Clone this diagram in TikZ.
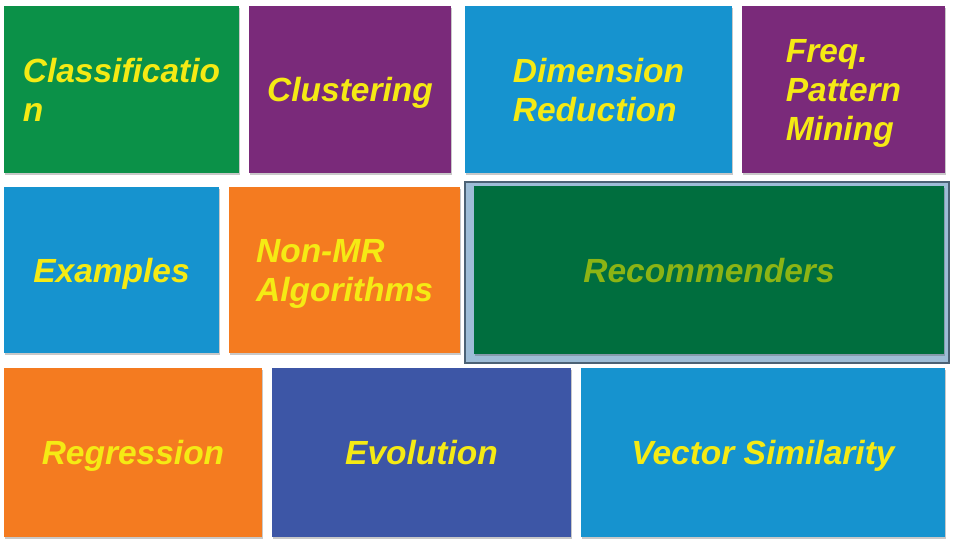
\documentclass[tikz,border=0pt]{standalone}
\usepackage{fontspec}
\setmainfont{Liberation Sans}
\usetikzlibrary{shadows}

\definecolor{tilegreen}{HTML}{0B9148}
\definecolor{tilepurple}{HTML}{7A2A7A}
\definecolor{tileblue}{HTML}{1693CF}
\definecolor{tileorange}{HTML}{F47B20}
\definecolor{tileindigo}{HTML}{3D56A6}
\definecolor{recgreen}{HTML}{006E3E}
\definecolor{recgreentext}{HTML}{8CB414}
\definecolor{labelyellow}{HTML}{F5EA14}
\definecolor{framedark}{HTML}{4C6275}
\definecolor{framelight}{HTML}{9EBDD7}

\tikzstyle{tile} = [rectangle, inner sep=0pt, outer sep=0pt, align=left, text depth=0pt, text=labelyellow, font=\fontsize{33.5}{39}\selectfont\bfseries\itshape, drop shadow={shadow xshift=1pt, shadow yshift=-2pt, opacity=0.3, fill=black!70}]
\tikzstyle{rec frame} = [rectangle, inner sep=0pt, outer sep=0pt, draw=framedark, line width=2pt, fill=framelight]

\begin{document}
\begin{tikzpicture}[x=1pt,y=-1pt]
       \useasboundingbox[fill=white] (0,0) rectangle (953,545);
       \foreach \pos/\w/\h/\col/\name/\txt in {{(121.5,89.5)/235/167/tilegreen/classification/{Classificatio\\n}},
           {(350,89.5)/202/167/tilepurple/clustering/{Clustering}},
           {(598.5,89.5)/267/167/tileblue/dimreduction/{Dimension\\Reduction}},
           {(843.5,89.5)/203/167/tilepurple/freqpattern/{Freq.\\Pattern\\Mining}},
           {(111.5,270)/215/166/tileblue/examples/{Examples}},
           {(344.5,270)/231/166/tileorange/nonmr/{Non-MR\\Algorithms}},
           {(133,452.5)/258/169/tileorange/regression/{Regression}},
           {(421.5,452.5)/299/169/tileindigo/evolution/{Evolution}},
           {(763,452.5)/364/169/tileblue/vecsim/{Vector Similarity}}} {
           \node[tile, fill=\col, minimum width=\w pt, minimum height=\h pt] (\name) at \pos {\txt};
       }
       \node[rec frame, minimum width=484pt, minimum height=181pt] (recframe) at (707,272.5) {};
       \node[tile, fill=recgreen, text=recgreentext, minimum width=470pt, minimum height=168pt] (recommenders) at (709,270) {Recommenders};
\end{tikzpicture}
\end{document}
